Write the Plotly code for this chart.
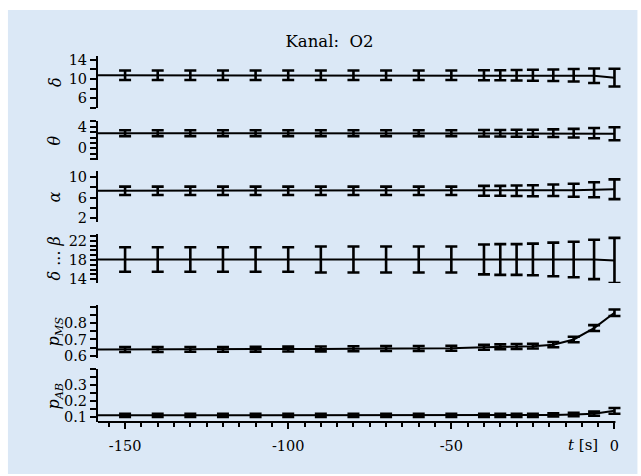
import plotly.graph_objects as go

# ---------------- data ----------------
t = [-150, -140, -130, -120, -110, -100, -90, -80, -70, -60, -50,
     -40, -35, -30, -25, -18.75, -12.5, -6.25, 0]
t_lead = -160  # earlier window (outside visible range), line continues to axis

delta_mean = [10.8, 10.8, 10.8, 10.8, 10.8, 10.8, 10.8, 10.8, 10.8, 10.8, 10.8,
              10.8, 10.8, 10.8, 10.8, 10.8, 10.8, 10.7, 10.3]
delta_err = [1.0, 1.0, 1.0, 1.0, 1.0, 1.0, 1.0, 1.0, 1.0, 1.0, 1.0,
             1.05, 1.05, 1.1, 1.15, 1.2, 1.3, 1.5, 1.85]

theta_mean = [2.8, 2.8, 2.8, 2.8, 2.8, 2.8, 2.8, 2.8, 2.8, 2.8, 2.8,
              2.8, 2.8, 2.8, 2.8, 2.8, 2.8, 2.8, 2.7]
theta_err = [0.55, 0.55, 0.55, 0.55, 0.55, 0.55, 0.55, 0.55, 0.55, 0.55, 0.55,
             0.6, 0.6, 0.65, 0.65, 0.7, 0.8, 0.95, 1.2]

alpha_mean = [7.3, 7.3, 7.3, 7.3, 7.3, 7.3, 7.3, 7.3, 7.3, 7.3, 7.3,
              7.3, 7.3, 7.3, 7.3, 7.4, 7.4, 7.5, 7.6]
alpha_err = [0.8, 0.8, 0.8, 0.8, 0.8, 0.8, 0.8, 0.8, 0.8, 0.8, 0.8,
             0.95, 0.95, 1.0, 1.05, 1.1, 1.25, 1.45, 1.9]

db_mean = [18.1, 18.1, 18.1, 18.1, 18.1, 18.1, 18.1, 18.1, 18.1, 18.1, 18.1,
           18.1, 18.1, 18.1, 18.1, 18.1, 18.1, 18.1, 17.9]
db_err = [2.55, 2.55, 2.55, 2.55, 2.55, 2.55, 2.7, 2.7, 2.7, 2.7, 2.7,
          3.1, 3.2, 3.2, 3.3, 3.5, 3.7, 4.1, 4.7]

pms_mean = [0.638, 0.638, 0.639, 0.639, 0.640, 0.641, 0.642, 0.643, 0.644, 0.645, 0.646,
            0.652, 0.655, 0.657, 0.659, 0.668, 0.700, 0.770, 0.864]
pms_err = [0.015, 0.015, 0.015, 0.015, 0.015, 0.015, 0.015, 0.015, 0.015, 0.015, 0.015,
           0.015, 0.015, 0.015, 0.015, 0.016, 0.017, 0.018, 0.02]

pab_mean = [0.11, 0.11, 0.11, 0.11, 0.11, 0.11, 0.11, 0.11, 0.11, 0.11, 0.11,
            0.11, 0.11, 0.11, 0.11, 0.112, 0.115, 0.12, 0.138]
pab_err = [0.01, 0.01, 0.01, 0.01, 0.01, 0.01, 0.01, 0.01, 0.01, 0.01, 0.01,
           0.01, 0.01, 0.01, 0.01, 0.01, 0.011, 0.013, 0.018]

panel_titles = ["<i>δ</i>", "<i>θ</i>", "<i>α</i>", "<i>δ</i> ... <i>β</i>",
                "<i>p</i><sub><i>MS</i></sub>", "<i>p</i><sub><i>AB</i></sub>"]

y_tickvals = [[6, 10, 14], [0, 4], [2, 6, 10], [14, 18, 22],
              [0.6, 0.7, 0.8], [0.1, 0.2, 0.3]]
y_ticktext = [["6", "10", "14"], ["0", "4"], ["2", "6", "10"], ["14", "18", "22"],
              ["0.6", "0.7", "0.8"], ["0.1", "0.2", "0.3"]]
y_minor_step = [2, 1, 2, 1, 0.05, 0.05]
y_ranges = [[4.0, 14.8], [-2.17, 5.06], [1.3, 11.1], [13.2, 23.4],
            [0.586, 0.912], [0.068, 0.40]]

x_range = [-158.3, 2.0]
x_axis_span = [-158.3, 0.3]
x_tickvals = [-150, -100, -50, 0]
x_ticktext = ["-150", "-100", "-50", "0"]

# ---------------- layout geometry ----------------
W, H = 641, 476
PX_PER_S = 3.26
L, T, B = 98, 56, 54
plot_w = (x_range[1] - x_range[0]) * PX_PER_S
R = W - L - plot_w
plot_h = H - T - B
panel_px = [(56, 108), (121, 160), (171, 222), (234, 283), (305, 358), (369, 422)]
domains = [[(H - B - b) / plot_h, (H - B - tp) / plot_h] for tp, b in panel_px]

series = [(delta_mean, delta_err), (theta_mean, theta_err), (alpha_mean, alpha_err),
          (db_mean, db_err), (pms_mean, pms_err), (pab_mean, pab_err)]

serif = "DejaVu Serif"

fig = go.Figure()
for i, (m, e) in enumerate(series):
    yname = "y" if i == 0 else f"y{i+1}"
    fig.add_trace(go.Scatter(x=[t_lead] + t, y=[m[0]] + m, mode="lines",
                             line=dict(color="black", width=2),
                             xaxis="x", yaxis=yname, showlegend=False,
                             hoverinfo="skip"))
    fig.add_trace(go.Scatter(x=t, y=m, mode="markers",
                             marker=dict(size=1, color="black"),
                             error_y=dict(type="data", array=e, visible=True,
                                          color="black", thickness=2.6, width=6),
                             xaxis="x", yaxis=yname, showlegend=False))

layout = dict(
    width=W, height=H,
    margin=dict(l=L, r=R, t=T, b=B),
    paper_bgcolor="white",
    plot_bgcolor="rgba(0,0,0,0)",
    font=dict(family=serif, size=15, color="black"),
    showlegend=False,
    title=dict(text="Kanal:  O2", x=329.5 / W, xref="container", xanchor="center",
               y=1 - 41 / H, yref="container", yanchor="middle",
               font=dict(family=serif, size=16.5, color="black")),
    xaxis=dict(range=x_range, anchor="y6", domain=[0, 1],
               showline=False,
               ticks="outside", ticklen=6, tickwidth=2, tickcolor="black",
               tickvals=x_tickvals, ticktext=x_ticktext,
               minor=dict(dtick=5, tick0=0, ticks="outside", ticklen=4,
                          tickwidth=2, tickcolor="black"),
               showgrid=False, zeroline=False, ticklabelstandoff=5,
               tickfont=dict(family=serif, size=14.5)),
    shapes=[dict(type="rect", xref="paper", yref="paper",
                 x0=(8 - L) / plot_w, x1=(637 - L) / plot_w,
                 y0=(H - B - 474) / plot_h, y1=(H - B - 10) / plot_h,
                 fillcolor="#dbe8f6", line=dict(width=0), layer="below"),
            dict(type="line", xref="x", yref="y6 domain",
                 x0=x_axis_span[0], x1=x_axis_span[1], y0=0, y1=0,
                 line=dict(color="black", width=2), layer="above")],
)

annotations = []
for i in range(6):
    key = "yaxis" if i == 0 else f"yaxis{i+1}"
    layout[key] = dict(domain=domains[i], range=y_ranges[i], anchor="x",
                       showline=True, linecolor="black", linewidth=2,
                       ticks="outside", ticklen=6, tickwidth=2, tickcolor="black",
                       tickvals=y_tickvals[i], ticktext=y_ticktext[i],
                       minor=dict(dtick=y_minor_step[i], tick0=0, ticks="outside",
                                  ticklen=6, tickwidth=2, tickcolor="black",
                                  showgrid=False),
                       showgrid=False, zeroline=False,
                       tickfont=dict(family=serif, size=14.5))
    ref = "y domain" if i == 0 else f"y{i+1} domain"
    annotations.append(dict(text=panel_titles[i], xref="paper", yref=ref,
                            x=(55 - L) / plot_w, y=0.5, xanchor="center",
                            yanchor="middle", textangle=-90, showarrow=False,
                            font=dict(family=serif, size=16, color="black")))

annotations.append(dict(text="<i>t</i> [s]", xref="paper", yref="paper",
                        x=(583 - L) / plot_w, y=(H - B - 445) / plot_h,
                        xanchor="center", yanchor="middle", showarrow=False,
                        font=dict(family=serif, size=15, color="black")))
layout["annotations"] = annotations

fig.update_layout(**layout)
fig.write_html("out.html")
